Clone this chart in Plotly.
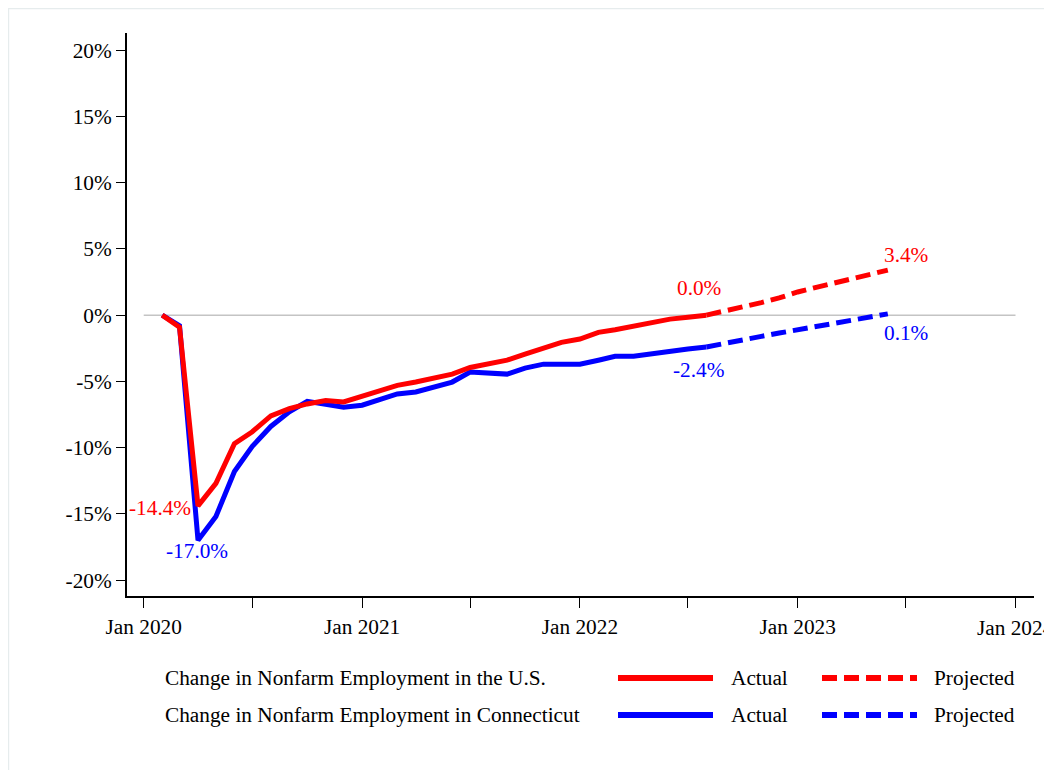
import pandas as pd
import plotly.graph_objects as go

# ---------------- data ----------------
actual_months = pd.date_range("2020-02-01", "2022-08-01", freq="MS")
proj_months = pd.date_range("2022-08-01", "2023-06-01", freq="MS")

us_actual = [0.0, -0.9, -14.4, -12.7, -9.7, -8.8, -7.6, -7.05, -6.7, -6.45, -6.55,
             -6.1, -5.7, -5.3, -5.05, -4.75, -4.45, -3.95, -3.7, -3.4, -2.95, -2.45, -2.05,
             -1.8, -1.3, -1.1, -0.8, -0.55, -0.3, -0.15, 0.0]
ct_actual = [0.0, -0.8, -17.0, -15.2, -11.8, -9.9, -8.4, -7.3, -6.5, -6.75, -6.95,
             -6.8, -6.4, -5.95, -5.8, -5.45, -5.05, -4.3, -4.35, -4.45, -4.0, -3.7, -3.7,
             -3.7, -3.4, -3.1, -3.1, -2.9, -2.7, -2.55, -2.4]
us_proj = [0.0, 0.3, 0.65, 0.95, 1.3, 1.75, 2.1, 2.4, 2.75, 3.05, 3.4]
ct_proj = [-2.4, -2.1, -1.85, -1.6, -1.35, -1.1, -0.85, -0.6, -0.4, -0.15, 0.1]

y_ticks = [20, 15, 10, 5, 0, -5, -10, -15, -20]
y_labels = ["20%", "15%", "10%", "5%", "0%", "-5%", "-10%", "-15%", "-20%"]
x_ticks = pd.date_range("2020-01-01", "2024-01-01", freq="6MS")
x_labels = ["Jan 2020", "", "Jan 2021", "", "Jan 2022", "", "Jan 2023", "", "Jan 2024"]

series_names = ["Change in Nonfarm Employment in the U.S.",
                "Change in Nonfarm Employment in Connecticut"]

RED = "#ff0000"
BLUE = "#0000ff"
FONT = "Liberation Serif"
FS = 21.3
DASH = "15px,7px"

fig = go.Figure()

fig.add_trace(go.Scatter(x=actual_months, y=ct_actual, mode="lines",
                         line=dict(color=BLUE, width=5), showlegend=False))
fig.add_trace(go.Scatter(x=proj_months, y=ct_proj, mode="lines",
                         line=dict(color=BLUE, width=5, dash=DASH), showlegend=False))
fig.add_trace(go.Scatter(x=actual_months, y=us_actual, mode="lines",
                         line=dict(color=RED, width=5), showlegend=False))
fig.add_trace(go.Scatter(x=proj_months, y=us_proj, mode="lines",
                         line=dict(color=RED, width=5, dash=DASH), showlegend=False))

# zero reference line
fig.add_shape(type="line", xref="x", yref="y", x0=x_ticks[0], x1=x_ticks[-1], y0=0, y1=0,
              line=dict(color="#c4c4c4", width=1.5), layer="below")

def fmt(v):
    return f"{v:.1f}%"

ann = []
def lab(x, y, color, xs, ys, xanchor="center"):
    ann.append(dict(x=x, y=y, xref="x", yref="y", text=fmt(y), showarrow=False,
                    font=dict(family=FONT, size=FS, color=color),
                    xanchor=xanchor, yanchor="middle", xshift=xs, yshift=ys))

imin_us = us_actual.index(min(us_actual))
imin_ct = ct_actual.index(min(ct_actual))
lab(actual_months[imin_us], us_actual[imin_us], RED, -5, -2, "right")
lab(actual_months[imin_ct], ct_actual[imin_ct], BLUE, -1, -11)
lab(actual_months[-1], us_actual[-1], RED, -7, 27)
lab(actual_months[-1], ct_actual[-1], BLUE, -7, -23)
lab(proj_months[-1], us_proj[-1], RED, 19, 15)
lab(proj_months[-1], ct_proj[-1], BLUE, 19, -19)

# ---------------- layout geometry (page offset 8px) ----------------
OFF = 8
W, H = 1036, 762
L, R, T, B = 119, 10, 25, 174
pw, ph = W - L - R, H - T - B
def px(xp):
    return (xp - OFF - L) / pw
def py(yp):
    return (OFF + H - B - yp) / ph

rows = [(678, RED, series_names[0]), (715, BLUE, series_names[1])]
for yp, col, name in rows:
    for xp, txt in [(163, name), (729, "Actual"), (932, "Projected")]:
        ann.append(dict(x=px(xp), y=py(yp), xref="paper", yref="paper", text=txt,
                        showarrow=False, xanchor="left", yanchor="middle",
                        font=dict(family=FONT, size=FS, color="black")))
    fig.add_shape(type="line", xref="paper", yref="paper", x0=px(618), x1=px(713),
                  y0=py(yp), y1=py(yp), line=dict(color=col, width=6))
    fig.add_shape(type="line", xref="paper", yref="paper", x0=px(822), x1=px(917),
                  y0=py(yp), y1=py(yp), line=dict(color=col, width=6, dash=DASH))

# faint outer frame
fig.add_shape(type="rect", xref="paper", yref="paper", x0=px(8.6), x1=px(1080),
              y0=py(800), y1=py(8.6), line=dict(color="#e6eced", width=1.2), layer="below")

# last tick label sits at the page edge (plotly would drop it): draw it as text at its tick
x_text = list(x_labels)
x_text[-1] = ""
ann.append(dict(x=x_ticks[-1], y=py(628), xref="x", yref="paper", text=x_labels[-1],
                showarrow=False, xanchor="center", yanchor="middle",
                font=dict(family=FONT, size=FS, color="black")))

fig.update_layout(
    width=W, height=H,
    margin=dict(l=L, r=R, t=T, b=B),
    paper_bgcolor="white", plot_bgcolor="white",
    font=dict(family=FONT, size=FS, color="black"),
    annotations=ann,
    showlegend=False,
    xaxis=dict(type="date", range=["2019-12-04", "2024-02-01"],
               tickvals=list(x_ticks), ticktext=x_text,
               ticks="outside", ticklen=10, tickwidth=1.3, tickcolor="black",
               showline=True, linecolor="black", linewidth=2,
               showgrid=False, zeroline=False,
               tickfont=dict(family=FONT, size=FS, color="black")),
    yaxis=dict(range=[-21.2, 21.3], tickvals=y_ticks, ticktext=y_labels,
               ticks="outside", ticklen=9, tickwidth=1.3, tickcolor="black",
               showline=True, linecolor="black", linewidth=2,
               showgrid=False, zeroline=False,
               tickfont=dict(family=FONT, size=FS, color="black")),
)

fig.write_html("out.html", config={"responsive": False})
